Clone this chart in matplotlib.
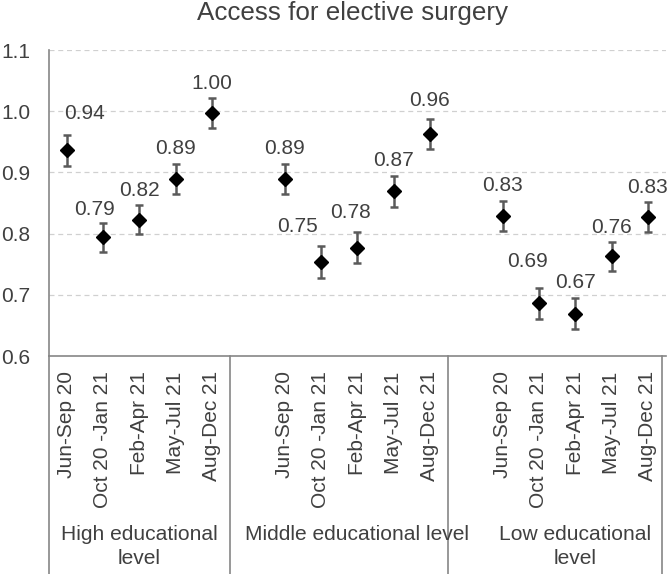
import matplotlib.pyplot as plt
import matplotlib.transforms as mtransforms

plt.rcParams["font.family"] = ["Liberation Sans", "DejaVu Sans"]

groups  = ["High educational\nlevel", "Middle educational level", "Low educational\nlevel"]
periods = ["Jun-Sep 20", "Oct 20 -Jan 21", "Feb-Apr 21", "May-Jul 21", "Aug-Dec 21"]

high_vals   = [0.936, 0.794, 0.823, 0.889, 0.997]
middle_vals = [0.889, 0.754, 0.777, 0.869, 0.963]
low_vals    = [0.829, 0.686, 0.669, 0.763, 0.827]

high_err   = [0.025, 0.024, 0.024, 0.024, 0.024]
middle_err = [0.025, 0.026, 0.025, 0.025, 0.025]
low_err    = [0.024, 0.025, 0.025, 0.024, 0.024]

# label offsets in pixels (dx, dy) relative to the marker
label_dx = [18, -8, 0, 0, 0,   0, -23, -7, 0, 0,   0, -11, 0, 0, 0]
label_dy = [37, 28, 29, 31, 30,   31, 35, 35, 31, 33,   30, 42, 31, 29, 30]

text_col = "#404040"
axis_col = "#868686"

fig = plt.figure(figsize=(6.69, 5.74), dpi=100)
ax = fig.add_axes([48.5 / 669, 1 - 356 / 574, (666 - 48.5) / 669, 306 / 574])

vals = high_vals + middle_vals + low_vals
errs = high_err + middle_err + low_err
xs = []
for g in range(len(groups)):
    for i in range(len(periods)):
        xs.append(g * (len(periods) + 1) + i)

ax.errorbar(xs, vals, yerr=errs, fmt="none", ecolor="#5a5a5a",
            elinewidth=1.8, capsize=3, capthick=1.8, zorder=3)
ax.plot(xs, vals, linestyle="none", marker="D", markersize=7.5,
        color="black", zorder=4)

for k, (x, v) in enumerate(zip(xs, vals)):
    ax.annotate(f"{v:.2f}", (x, v), xytext=(label_dx[k], label_dy[k]),
                textcoords="offset pixels", ha="center", va="center",
                fontsize=15, color=text_col)

ax.set_xlim(-0.5, 16.5)
ax.set_ylim(0.6, 1.1)
ax.set_yticks([0.6, 0.7, 0.8, 0.9, 1.0, 1.1])
ax.set_yticklabels(["0.6", "0.7", "0.8", "0.9", "1.0", "1.1"])
ax.set_xticks(xs)
ax.set_xticklabels(periods * len(groups), rotation=90, va="top", ha="center")
ax.tick_params(axis="both", length=0, labelsize=15, colors=text_col)
ax.tick_params(axis="x", pad=11)
ax.tick_params(axis="y", pad=13)

for y in [0.7, 0.8, 0.9, 1.0, 1.1]:
    ax.axhline(y, color="#d0d0d0", linestyle=(0, (4, 3)), linewidth=0.9, zorder=1)

for side in ["top", "right"]:
    ax.spines[side].set_visible(False)
ax.spines["left"].set_color(axis_col)
ax.spines["bottom"].set_color(axis_col)
ax.spines["left"].set_linewidth(1.2)
ax.spines["bottom"].set_linewidth(1.2)

# category box below the axis
trans = mtransforms.blended_transform_factory(ax.transData, ax.transAxes)
for xb in [-0.5, 4.5, 10.5, 16.4]:
    ax.plot([xb, xb], [0, -0.75], transform=trans, color=axis_col,
            linewidth=1.2, clip_on=False)

for g, name in enumerate(groups):
    ax.text(g * (len(periods) + 1) + 2, (356 - 525) / 306, name,
            transform=trans, ha="center", va="top", fontsize=15.1,
            color=text_col, linespacing=1.32)

fig.text(0.527, 1 - 13 / 574, "Access for elective surgery", ha="center",
         va="center", fontsize=18.7, color=text_col)

fig.savefig("out.png", dpi=100)
